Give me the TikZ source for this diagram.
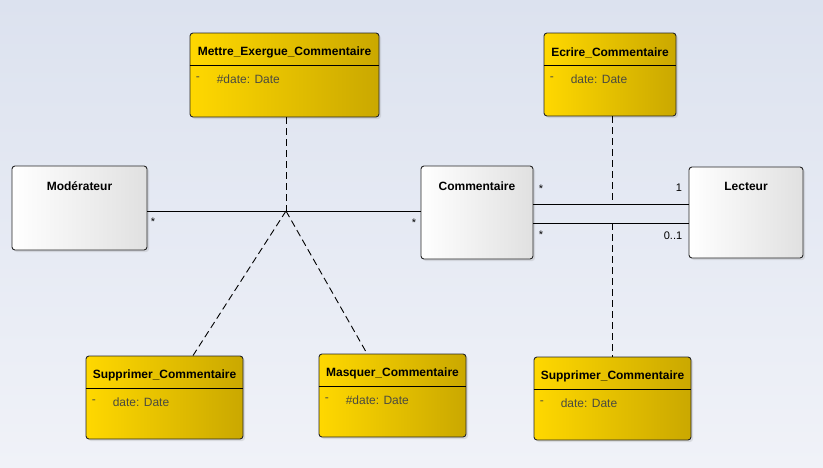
\documentclass[tikz,border=0pt]{standalone}
\usepackage{fontspec}
\setmainfont{Liberation Sans}
\usepackage{xcolor}
\usetikzlibrary{positioning, shadows}

\definecolor{fondhaut}{HTML}{DCE2EF}
\definecolor{fondbas}{HTML}{F0F2F8}
\definecolor{orclair}{HTML}{FFD800}
\definecolor{orfonce}{HTML}{CAA800}
\definecolor{grisattr}{HTML}{4A4A40}

\tikzset{
    classe/.style={draw=black!85, line width=0.9pt, rounded corners=3pt,
        left color=white, right color=black!12,
        drop shadow={shadow xshift=2pt, shadow yshift=-2pt, opacity=0.2, fill=black!50}},
    action/.style={classe, left color=orclair, right color=orfonce},
    titre/.style={font=\bfseries\fontsize{12}{14}\selectfont, inner sep=0pt},
    attr/.style={font=\fontsize{12}{14}\selectfont, text=grisattr, inner sep=0pt, anchor=west},
    assoc/.style={line width=1pt},
    lien/.style={line width=0.9pt, dash pattern=on 7pt off 4pt},
    mult/.style={font=\fontsize{11}{13}\selectfont, inner sep=0pt},
}

\begin{document}
\begin{tikzpicture}[x=1pt, y=-1pt]
        \fill[top color=fondhaut, bottom color=fondbas] (0,0) rectangle (823,467);
        \useasboundingbox (0,0) rectangle (823,467);

        % classes
        \node[classe, minimum width=135, minimum height=84] (moderateur) at (79.5,208) {};
        \node[classe, minimum width=112, minimum height=93] (commentaire) at (477,212.5) {};
        \node[classe, minimum width=114, minimum height=91] (lecteur) at (746,212.5) {};
        \node[titre] (moderateur-t) at ([yshift=-20.5pt]moderateur.north) {Modérateur};
        \node[titre] (commentaire-t) at ([yshift=-20.5pt]commentaire.north) {Commentaire};
        \node[titre] (lecteur-t) at ([yshift=-19.5pt]lecteur.north) {Lecteur};

        % classes d'association
        \node[action, minimum width=189, minimum height=84] (exergue) at (284.5,75) {};
        \node[action, minimum width=132, minimum height=83] (ecrire) at (610,74.5) {};
        \node[action, minimum width=157, minimum height=83] (supprimer) at (164.5,397.5) {};
        \node[action, minimum width=147, minimum height=83] (masquer) at (392.5,395.5) {};
        \node[action, minimum width=157, minimum height=83] (supprimerl) at (612.5,398.5) {};

        \node[titre] (exergue-t) at ([yshift=-20pt]exergue.north) {Mettre\_Exergue\_Commentaire};
        \node[titre] (ecrire-t) at ([yshift=-20pt]ecrire.north) {Ecrire\_Commentaire};
        \node[titre] (supprimer-t) at ([yshift=-20pt]supprimer.north) {Supprimer\_Commentaire};
        \node[titre] (masquer-t) at ([yshift=-20pt]masquer.north) {Masquer\_Commentaire};
        \node[titre] (supprimerl-t) at ([yshift=-20pt]supprimerl.north) {Supprimer\_Commentaire};

        \foreach \c/\a in {exergue/\#date: Date, ecrire/date: Date, supprimer/date: Date,
                masquer/\#date: Date, supprimerl/date: Date} {
            \draw[line width=0.9pt] ([yshift=-33pt]\c.north west) -- ([yshift=-33pt]\c.north east);
            \node[attr] at ([xshift=6pt, yshift=-46.5pt]\c.north west) {-};
            \node[attr] at ([xshift=27pt, yshift=-46.5pt]\c.north west) {\a};
        }

        % associations
        \coordinate (pivot) at (286,211);
        \draw[assoc] (moderateur.east |- pivot) -- (commentaire.west |- pivot);
        \draw[assoc] ([yshift=8.5pt]commentaire.east) -- ([yshift=8.5pt]lecteur.west);
        \draw[assoc] ([yshift=-10.5pt]commentaire.east) -- ([yshift=-10.5pt]lecteur.west);

        \coordinate (haut) at (612,204);
        \coordinate (bas) at (612,223);
        \draw[lien] (exergue.south -| pivot) -- (pivot);
        \draw[lien] (pivot) -- ([xshift=28.5pt]supprimer.north);
        \draw[lien] (pivot) -- ([xshift=-25.5pt]masquer.north);
        \draw[lien] (ecrire.south -| haut) -- (haut);
        \draw[lien] (bas) -- (supprimerl.north -| bas);

        % multiplicites
        \node[mult] (m1) at (153,222) {*};
        \node[mult] (m2) at (414,223) {*};
        \node[mult] (m3) at (541,189) {*};
        \node[mult] (m4) at (541,235) {*};
        \node[mult] (m5) at (679,188) {1};
        \node[mult] (m6) at (673,236) {0..1};
\end{tikzpicture}
\end{document}
